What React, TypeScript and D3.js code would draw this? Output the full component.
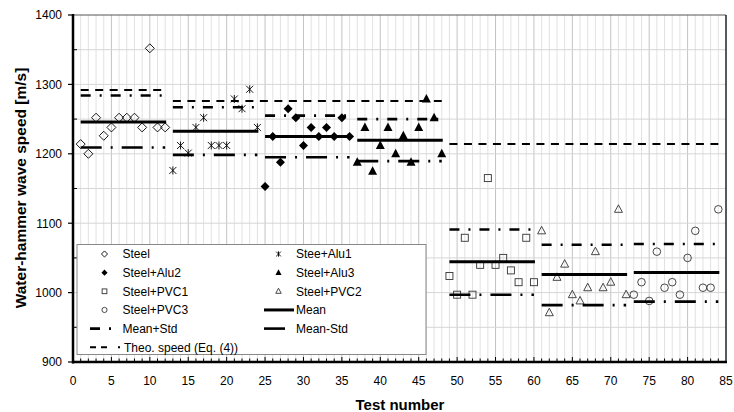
import * as d3 from 'd3'

// test numbers where each group starts (12 tests per group)
const firstTest = [1, 13, 25, 37, 49, 61, 73]

const seriesNames = ['Steel', 'Stee+Alu1', 'Steel+Alu2', 'Steel+Alu3', 'Steel+PVC1', 'Steel+PVC2', 'Steel+PVC3']
const seriesShapes = ['diamondOpen', 'star', 'diamond', 'triangle', 'square', 'triangleOpen', 'circle']

const steel = [1214, 1200, 1252, 1226, 1238, 1252, 1252, 1252, 1238, 1352, 1238, 1238]
const steelAlu1 = [1176, 1212, 1201, 1238, 1252, 1212, 1212, 1212, 1279, 1265, 1293, 1238]
const steelAlu2 = [1153, 1225, 1188, 1265, 1252, 1212, 1238, 1225, 1238, 1225, 1252, 1225]
const steelAlu3 = [1188, 1238, 1175, 1212, 1238, 1200, 1226, 1188, 1238, 1279, 1252, 1200]
const steelPvc1 = [1024, 997, 1079, 997, 1040, 1165, 1040, 1050, 1032, 1015, 1079, 1015]
const steelPvc2 = [1089, 971, 1022, 1041, 997, 988, 1007, 1059, 1007, 1015, 1120, 997]
const steelPvc3 = [997, 1015, 988, 1059, 1007, 1015, 997, 1050, 1089, 1007, 1007, 1120]

const groupMean = [1246, 1232.5, 1225, 1219.5, 1044.3, 1026, 1029]
const groupPlusStd = [1284, 1267, 1255, 1250, 1091, 1069, 1070]
const groupMinusStd = [1209, 1198.5, 1195, 1189.5, 997, 982, 987]

// theoretical speed, Eq. (4)
const theoFrom = [1, 13, 49]
const theoTo = [12, 48, 84]
const theoSpeed = [1292, 1276, 1214]

const xTicks = [0, 5, 10, 15, 20, 25, 30, 35, 40, 45, 50, 55, 60, 65, 70, 75, 80, 85]
const yTicks = [900, 1000, 1100, 1200, 1300, 1400]

const allSeries = [steel, steelAlu1, steelAlu2, steelAlu3, steelPvc1, steelPvc2, steelPvc3]

const W = 734
const H = 412
const plot = { left: 73, right: 726, top: 15, bottom: 362 }
const font = 'Arial, "Liberation Sans", sans-serif'

const x = d3.scaleLinear().domain([0, 85]).range([plot.left, plot.right])
const y = d3.scaleLinear().domain([900, 1400]).range([plot.bottom, plot.top])

const plusDash = '10,9,2,9'
const minusDash = '21,9,2,9'
const theoDash = '8,6.5'

function Marker({ shape, cx, cy, k = 1 }: { shape: string; cx: number; cy: number; k?: number }) {
  const t = `translate(${cx},${cy}) scale(${k})`
  switch (shape) {
    case 'diamondOpen':
      return <path transform={t} d="M0,-4.5L4.5,0L0,4.5L-4.5,0Z" fill="none" stroke="#000" strokeWidth={0.9 / k} />
    case 'diamond':
      return <path transform={t} d="M0,-4.5L4.5,0L0,4.5L-4.5,0Z" fill="#000" />
    case 'square':
      return <rect transform={t} x={-3.5} y={-3.5} width={7} height={7} fill="none" stroke="#333" strokeWidth={0.9 / k} />
    case 'triangle':
      return <path transform={t} d="M0,-5L4.5,3.5L-4.5,3.5Z" fill="#000" />
    case 'triangleOpen':
      return <path transform={t} d="M0,-4.5L4,3L-4,3Z" fill="none" stroke="#333" strokeWidth={0.9 / k} />
    case 'circle':
      return <circle transform={t} r={3.8} fill="none" stroke="#333" strokeWidth={0.9 / k} />
    case 'star':
      return (
        <g transform={t} stroke="#000" strokeWidth={0.9 / k}>
          <line x1={-3.5} y1={-3.5} x2={3.5} y2={3.5} />
          <line x1={-3.5} y1={3.5} x2={3.5} y2={-3.5} />
          <line x1={0} y1={-4} x2={0} y2={4} />
        </g>
      )
    default:
      return null
  }
}

export default function App() {
  const minorX = d3.range(1, 85)
  const gridY = d3.range(950, 1400, 50)

  const legendItems = [
    { kind: 'marker', shape: seriesShapes[0], label: seriesNames[0] },
    { kind: 'marker', shape: seriesShapes[1], label: seriesNames[1] },
    { kind: 'marker', shape: seriesShapes[2], label: seriesNames[2] },
    { kind: 'marker', shape: seriesShapes[3], label: seriesNames[3] },
    { kind: 'marker', shape: seriesShapes[4], label: seriesNames[4] },
    { kind: 'marker', shape: seriesShapes[5], label: seriesNames[5] },
    { kind: 'marker', shape: seriesShapes[6], label: seriesNames[6] },
    { kind: 'mean', label: 'Mean' },
    { kind: 'plus', label: 'Mean+Std' },
    { kind: 'minus', label: 'Mean-Std' },
    { kind: 'theo', label: 'Theo. speed (Eq. (4))' },
  ]
  const lg = { x: 77, y: 244.5, w: 349, h: 110, row: 18.65 }

  return (
    <>
      <style>{'body{margin:0}'}</style>
      <svg width={W} height={H} style={{ display: 'block', background: '#fff' }} fontFamily={font}>
        {/* grid */}
        {minorX.map((v) => (
          <line key={'gx' + v} x1={x(v)} x2={x(v)} y1={plot.top} y2={plot.bottom}
            stroke={v % 5 === 0 ? '#c4c4c4' : '#e2e2e2'} strokeWidth={1} />
        ))}
        {gridY.map((v) => (
          <line key={'gy' + v} x1={plot.left} x2={plot.right} y1={y(v)} y2={y(v)} stroke="#d6d6d6" strokeWidth={1} />
        ))}
        {/* top / right frame */}
        <line x1={plot.left} x2={plot.right} y1={plot.top} y2={plot.top} stroke="#555" strokeWidth={1} />
        <line x1={plot.right} x2={plot.right} y1={plot.top} y2={plot.bottom} stroke="#222" strokeWidth={1.5} />

        {/* theoretical speed */}
        {theoSpeed.map((v, i) => (
          <line key={'th' + i} x1={x(theoFrom[i])} x2={x(theoTo[i])} y1={y(v)} y2={y(v)}
            stroke="#000" strokeWidth={2} strokeDasharray={theoDash} />
        ))}

        {/* markers */}
        {allSeries.map((vals, si) =>
          vals.map((v, i) => (
            <Marker key={`m${si}-${i}`} shape={seriesShapes[si]} cx={x(firstTest[si] + i)} cy={y(v)} />
          ))
        )}

        {/* mean and mean +/- std */}
        {groupMean.map((v, i) => {
          const x1 = x(firstTest[i])
          const x2 = x(firstTest[i] + 11)
          return (
            <g key={'mean' + i}>
              <line x1={x1} x2={x2} y1={y(groupPlusStd[i])} y2={y(groupPlusStd[i])}
                stroke="#000" strokeWidth={2.6} strokeDasharray={plusDash} />
              <line x1={x1} x2={x2} y1={y(groupMinusStd[i])} y2={y(groupMinusStd[i])}
                stroke="#000" strokeWidth={2.6} strokeDasharray={minusDash} />
              <line x1={x1} x2={x2 + 1} y1={y(v)} y2={y(v)} stroke="#000" strokeWidth={3} />
            </g>
          )
        })}

        {/* axes */}
        <line x1={plot.left} x2={plot.left} y1={plot.top - 1} y2={plot.bottom + 1.5} stroke="#000" strokeWidth={2.5} />
        <line x1={plot.left - 1} x2={plot.right + 1} y1={plot.bottom} y2={plot.bottom} stroke="#000" strokeWidth={2.5} />
        {minorX.map((v) => (
          <line key={'tx' + v} x1={x(v)} x2={x(v)} y1={plot.bottom} y2={plot.bottom - (v % 5 === 0 ? 5 : 3.5)}
            stroke="#000" strokeWidth={1} />
        ))}
        {xTicks.map((v) => (
          <text key={'xt' + v} x={x(v)} y={plot.bottom + 22.5} textAnchor="middle" fontSize={12} fill="#000">{v}</text>
        ))}
        {gridY.filter((v) => v % 100 !== 0).map((v) => (
          <line key={'ym' + v} x1={plot.left} x2={plot.left + 4} y1={y(v)} y2={y(v)} stroke="#000" strokeWidth={1} />
        ))}
        {yTicks.map((v) => (
          <g key={'yt' + v}>
            <line x1={plot.left - 5} x2={plot.left} y1={y(v)} y2={y(v)} stroke="#000" strokeWidth={1.2} />
            <text x={62} y={y(v) + 4.3} textAnchor="end" fontSize={12} fill="#000">{v}</text>
          </g>
        ))}

        <text x={(plot.left + plot.right) / 2 + 0.5} y={409.5} textAnchor="middle" fontSize={15} fontWeight="bold">Test number</text>
        <text transform={`translate(26,${(plot.top + plot.bottom) / 2 - 0.5}) rotate(-90)`} textAnchor="middle"
          fontSize={15.5} fontWeight="bold">Water-hammer wave speed [m/s]</text>

        {/* legend */}
        <rect x={lg.x} y={lg.y} width={lg.w} height={lg.h} fill="#fff" stroke="#888" strokeWidth={1} />
        {legendItems.map((it, i) => {
          const col = i % 2
          const row = Math.floor(i / 2)
          const cy = lg.y + 9.5 + row * lg.row
          const mx = col === 0 ? 104.5 : 278.5
          const tx = col === 0 ? 122.5 : 296
          let sample = null
          if (it.kind === 'marker') sample = <Marker shape={it.shape!} cx={mx} cy={cy} k={0.68} />
          else if (it.kind === 'mean') sample = <line x1={264} x2={294} y1={cy} y2={cy} stroke="#000" strokeWidth={3} />
          else if (it.kind === 'plus') sample = <line x1={90} x2={111} y1={cy} y2={cy} stroke="#000" strokeWidth={2.6} strokeDasharray="10,9,2,9" />
          else if (it.kind === 'minus') sample = <line x1={264} x2={285} y1={cy} y2={cy} stroke="#000" strokeWidth={2.6} />
          else sample = <line x1={90} x2={120} y1={cy} y2={cy} stroke="#000" strokeWidth={2} strokeDasharray="6,5,6,11,2" />
          return (
            <g key={'lg' + i}>
              {sample}
              <text x={it.kind === 'theo' ? 124 : tx} y={cy + 4.3} fontSize={12} fill="#000">{it.label}</text>
            </g>
          )
        })}
      </svg>
    </>
  )
}
